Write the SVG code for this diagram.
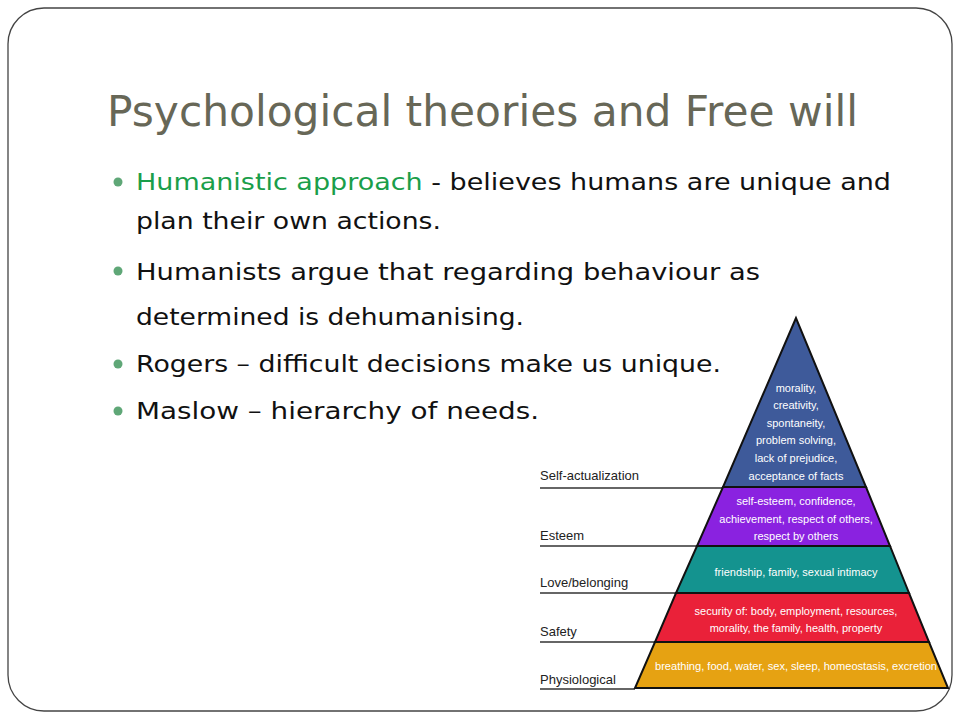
<svg xmlns="http://www.w3.org/2000/svg" width="960" height="720" viewBox="0 0 960 720">
<style>
.b{font-family:"DejaVu Sans","Liberation Sans",sans-serif;font-size:23px;fill:#111}
.g{fill:#1a9e4a}
.lab{font-family:"Liberation Sans",Arial,sans-serif;font-size:13px;fill:#222}
.in{font-family:"Liberation Sans",Arial,sans-serif;font-size:11px;fill:#fff;text-anchor:middle}
.ln{stroke:#333;stroke-width:1.5}
.dot{fill:#5fa777}
</style>
<rect width="960" height="720" fill="#fff"/>
<rect x="8" y="8" width="944" height="703" rx="36" fill="none" stroke="#444" stroke-width="1.3"/>
<text x="107" y="126" font-family="DejaVu Sans,Liberation Sans,sans-serif" font-size="42" fill="#676757" textLength="751" lengthAdjust="spacingAndGlyphs">Psychological theories and Free will</text>
<g id="bullets">
<circle class="dot" cx="118" cy="182" r="4.5"/>
<text class="b" x="136" y="190" textLength="755" lengthAdjust="spacingAndGlyphs"><tspan class="g">Humanistic approach</tspan> - believes humans are unique and</text>
<text class="b" x="136" y="229" textLength="305" lengthAdjust="spacingAndGlyphs">plan their own actions.</text>
<circle class="dot" cx="118" cy="271" r="4.5"/>
<text class="b" x="136" y="280" textLength="624" lengthAdjust="spacingAndGlyphs">Humanists argue that regarding behaviour as</text>
<text class="b" x="136" y="325" textLength="388" lengthAdjust="spacingAndGlyphs">determined is dehumanising.</text>
<circle class="dot" cx="118" cy="364" r="4.5"/>
<text class="b" x="136" y="372" textLength="585" lengthAdjust="spacingAndGlyphs">Rogers – difficult decisions make us unique.</text>
<circle class="dot" cx="118" cy="411" r="4.5"/>
<text class="b" x="136" y="419" textLength="403" lengthAdjust="spacingAndGlyphs">Maslow – hierarchy of needs.</text>
</g>
<g id="connectors">
<line class="ln" x1="540" y1="488" x2="723" y2="488"/>
<line class="ln" x1="540" y1="546" x2="697" y2="546"/>
<line class="ln" x1="540" y1="593" x2="676" y2="593"/>
<line class="ln" x1="540" y1="642" x2="655" y2="642"/>
<line class="ln" x1="540" y1="689" x2="635" y2="689"/>
</g>
<g id="labels">
<text class="lab" x="540" y="480">Self-actualization</text>
<text class="lab" x="540" y="540">Esteem</text>
<text class="lab" x="540" y="587">Love/belonging</text>
<text class="lab" x="540" y="636">Safety</text>
<text class="lab" x="540" y="684">Physiological</text>
</g>
<g id="pyramid" stroke="#111" stroke-width="2">
<polygon points="796,318 723,487 866,487" fill="#3e5a9a"/>
<polygon points="723,487 866,487 890,546 697,546" fill="#8a22e0"/>
<polygon points="697,546 890,546 909,593 676,593" fill="#14938f"/>
<polygon points="676,593 909,593 929,642 655,642" fill="#ea2139"/>
<polygon points="655,642 929,642 948,688 635,688" fill="#e6a212"/>
</g>
<g id="pyramid-text">
<text class="in" x="796" y="392">morality,</text>
<text class="in" x="796" y="409">creativity,</text>
<text class="in" x="796" y="427">spontaneity,</text>
<text class="in" x="796" y="444">problem solving,</text>
<text class="in" x="796" y="462">lack of prejudice,</text>
<text class="in" x="796" y="480">acceptance of facts</text>
<text class="in" x="796" y="505">self-esteem, confidence,</text>
<text class="in" x="796" y="523">achievement, respect of others,</text>
<text class="in" x="796" y="540">respect by others</text>
<text class="in" x="796" y="576">friendship, family, sexual intimacy</text>
<text class="in" x="796" y="615">security of: body, employment, resources,</text>
<text class="in" x="796" y="632">morality, the family, health, property</text>
<text class="in" x="796" y="670" textLength="282" lengthAdjust="spacingAndGlyphs">breathing, food, water, sex, sleep, homeostasis, excretion</text>
</g>
</svg>
